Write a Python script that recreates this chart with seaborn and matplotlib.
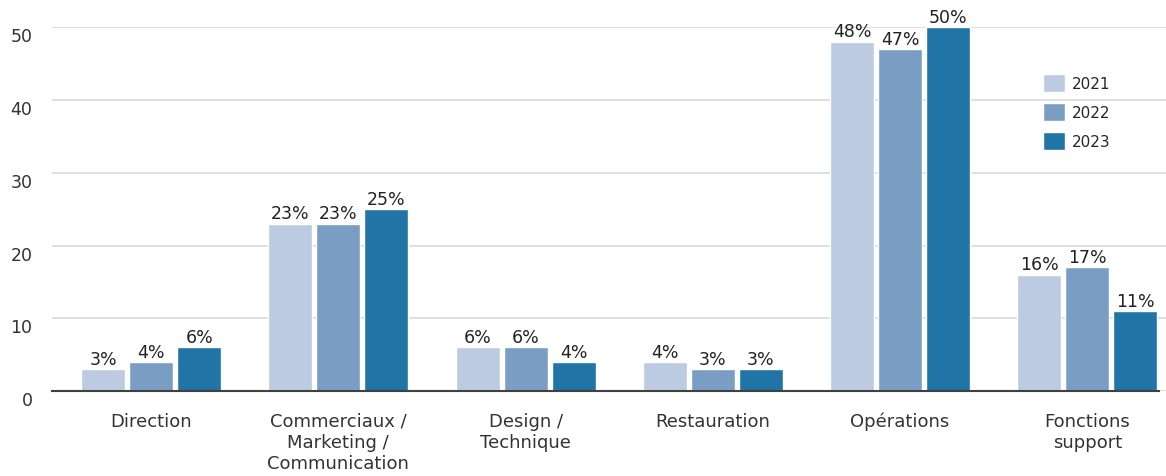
import pandas as pd
import matplotlib.pyplot as plt
import seaborn as sns

categories = ["Direction", "Commerciaux /\nMarketing /\nCommunication", "Design /\nTechnique",
              "Restauration", "Opérations", "Fonctions\nsupport"]
years = ["2021", "2022", "2023"]
v2021 = [3, 23, 6, 4, 48, 16]
v2022 = [4, 23, 6, 3, 47, 17]
v2023 = [6, 25, 4, 3, 50, 11]
palette = ["#bccbe1", "#7a9ec3", "#2175a6"]

rows = []
for year, vals in zip(years, [v2021, v2022, v2023]):
    for cat, v in zip(categories, vals):
        rows.append({"cat": cat, "year": year, "value": v})
df = pd.DataFrame(rows)

sns.set_style("white")
plt.rcParams["font.family"] = ["DejaVu Sans"]

fig = plt.figure(figsize=(11.66, 4.77), dpi=100)
ax = fig.add_axes([0.0446, 0.178, 0.9554, 0.763])

sns.barplot(data=df, x="cat", y="value", hue="year", palette=palette,
            width=0.77, gap=0.085, ax=ax, saturation=1)

for c in ax.containers:
    ax.bar_label(c, fmt="%d%%", padding=1, fontsize=12.5, color="#222222")

ax.set_ylim(0, 50)
ax.set_xlim(-0.529, 5.42)
ax.set_yticks([0, 10, 20, 30, 40, 50])
ax.yaxis.grid(True, color="#d9d9d9", linewidth=1.2)
ax.set_axisbelow(True)
ax.tick_params(axis="y", length=0, labelsize=12.5, labelcolor="#333333", pad=14)
ax.tick_params(axis="x", length=0, labelsize=13, labelcolor="#333333", pad=15)
for lbl in ax.get_yticklabels():
    lbl.set_verticalalignment("top")
for lbl in ax.get_xticklabels():
    lbl.set_linespacing(1.22)
ax.set_xlabel("")
ax.set_ylabel("")
for s in ["top", "right", "left"]:
    ax.spines[s].set_visible(False)
ax.spines["bottom"].set_color("#404040")
ax.spines["bottom"].set_linewidth(1.5)
ax.spines["bottom"].set_bounds(-0.529, 5.38)

leg = ax.legend(title=None, frameon=False, loc="upper left", bbox_to_anchor=(0.877, 0.91),
                fontsize=11, handlelength=1.45, handleheight=1.45, labelspacing=0.72,
                handletextpad=0.45)

fig.savefig("out.png", dpi=100)
